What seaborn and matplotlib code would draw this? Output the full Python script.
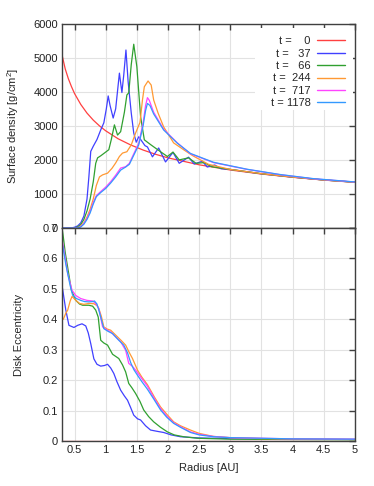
import matplotlib
matplotlib.use('Agg')
import matplotlib.pyplot as plt
import matplotlib.ticker as mticker
from matplotlib.patches import Rectangle
import pandas as pd
import seaborn as sns

# Surface density [g/cm^2] vs radius [AU]
r_sig_t0 = [0.3, 0.35, 0.4, 0.45, 0.5, 0.6, 0.7, 0.8, 0.9, 1.0, 1.2, 1.4, 1.6, 1.8, 2.0, 2.5, 3.0, 3.5, 4.0, 4.5, 5.0]
sig_t0 = [5080, 4677, 4390, 4157, 3950, 3630, 3375, 3170, 3000, 2855, 2620, 2440, 2290, 2165, 2060, 1856, 1703, 1585, 1489, 1407, 1340]

r_sig_t37 = [0.3, 0.45, 0.5, 0.55, 0.6, 0.65, 0.7, 0.73, 0.76, 0.8, 0.86, 0.92, 0.97, 1.01, 1.04, 1.07, 1.12, 1.16, 1.22,
             1.26, 1.29, 1.325, 1.36, 1.41, 1.45, 1.49, 1.53, 1.58, 1.63, 1.67, 1.75, 1.85, 1.96, 2.08, 2.18, 2.33, 2.42,
             2.55, 2.63, 2.75, 2.85, 3.0, 3.5, 4.0, 4.5, 5.0]
sig_t37 = [0, 0, 20, 60, 150, 350, 850, 1500, 2250, 2400, 2600, 2880, 3090, 3500, 3880, 3600, 3230, 3500, 4550,
           3980, 4500, 5230, 4300, 3380, 2790, 2520, 2680, 2550, 2420, 2380, 2090, 2350, 1940, 2220, 1900, 2080, 1880,
           1960, 1790, 1850, 1740, 1720, 1590, 1495, 1410, 1345]

r_sig_t66 = [0.3, 0.5, 0.55, 0.6, 0.65, 0.7, 0.75, 0.8, 0.84, 0.87, 0.92, 1.0, 1.05, 1.09, 1.14, 1.19, 1.24, 1.30, 1.34,
             1.37, 1.41, 1.45, 1.50, 1.56, 1.62, 1.72, 1.88, 1.99, 2.08, 2.18, 2.33, 2.45, 2.58, 2.7, 2.85, 3.0, 3.5,
             4.0, 4.5, 5.0]
sig_t66 = [0, 0, 30, 100, 250, 500, 850, 1350, 1900, 2060, 2120, 2230, 2300, 2600, 3030, 2730, 2830, 3400, 3910,
           3970, 4800, 5400, 4740, 3270, 2590, 2450, 2240, 2100, 2230, 2000, 2060, 1900, 1920, 1800, 1760, 1720, 1595,
           1495, 1410, 1345]

r_sig_t244 = [0.3, 0.55, 0.6, 0.65, 0.7, 0.75, 0.8, 0.85, 0.9, 0.95, 1.03, 1.1, 1.16, 1.22, 1.27, 1.34, 1.41, 1.48,
              1.55, 1.59, 1.62, 1.68, 1.73, 1.77, 1.84, 1.93, 2.09, 2.25, 2.4, 2.65, 3.0, 3.5, 4.0, 4.5, 5.0]
sig_t244 = [0, 0, 60, 150, 320, 550, 850, 1250, 1500, 1560, 1610, 1750, 1910, 2100, 2200, 2240, 2440, 2790,
            3100, 3760, 4150, 4320, 4200, 3760, 3380, 2970, 2500, 2300, 2120, 1870, 1720, 1595, 1495, 1410, 1345]

r_sig_t717 = [0.3, 0.55, 0.6, 0.65, 0.7, 0.75, 0.8, 0.85, 0.92, 1.0, 1.08, 1.16, 1.24, 1.32, 1.38, 1.43, 1.53, 1.60,
              1.64, 1.67, 1.70, 1.77, 1.93, 2.15, 2.36, 2.73, 3.27, 3.8, 4.33, 5.0]
sig_t717 = [0, 0, 40, 130, 280, 480, 750, 950, 1070, 1200, 1360, 1550, 1760, 1800, 1900, 2100, 2490, 3080,
            3600, 3830, 3750, 3400, 2900, 2500, 2180, 1920, 1720, 1565, 1445, 1350]

r_sig_t1178 = [0.3, 0.55, 0.6, 0.65, 0.7, 0.75, 0.8, 0.85, 0.92, 1.0, 1.08, 1.16, 1.24, 1.32, 1.38, 1.43, 1.53, 1.60,
               1.64, 1.67, 1.71, 1.77, 1.93, 2.15, 2.36, 2.73, 3.27, 3.8, 4.33, 5.0]
sig_t1178 = [0, 0, 30, 110, 250, 440, 700, 920, 1040, 1160, 1320, 1500, 1700, 1790, 1870, 2060, 2440, 3000,
             3450, 3660, 3600, 3350, 2880, 2490, 2190, 1930, 1725, 1570, 1450, 1352]

# Disk eccentricity vs radius [AU]
r_ecc_t0 = [0.3, 5.0]
ecc_t0 = [0.0, 0.0]

r_ecc_t37 = [0.3, 0.36, 0.41, 0.49, 0.55, 0.62, 0.68, 0.72, 0.76, 0.81, 0.86, 0.92, 0.98, 1.03, 1.08, 1.13, 1.18, 1.24,
             1.30, 1.35, 1.40, 1.45, 1.51, 1.56, 1.64, 1.72, 1.82, 1.93, 2.05, 2.2, 2.5, 3.0, 4.0, 5.0]
ecc_t37 = [0.51, 0.43, 0.38, 0.373, 0.38, 0.385, 0.378, 0.355, 0.32, 0.27, 0.252, 0.246, 0.248, 0.252, 0.24, 0.222,
           0.195, 0.167, 0.148, 0.134, 0.11, 0.085, 0.073, 0.069, 0.05, 0.036, 0.032, 0.028, 0.02, 0.014, 0.01, 0.008,
           0.006, 0.005]

r_ecc_t66 = [0.3, 0.32, 0.35, 0.39, 0.45, 0.52, 0.58, 0.63, 0.73, 0.79, 0.84, 0.88, 0.92, 0.97, 1.03, 1.11, 1.21, 1.27,
             1.32, 1.37, 1.42, 1.48, 1.55, 1.61, 1.69, 1.77, 1.88, 1.99, 2.1, 2.25, 2.47, 3.0, 4.0, 5.0]
ecc_t66 = [0.70, 0.67, 0.62, 0.57, 0.495, 0.462, 0.45, 0.446, 0.446, 0.443, 0.43, 0.407, 0.331, 0.322, 0.315, 0.285,
           0.271, 0.25, 0.227, 0.189, 0.175, 0.156, 0.13, 0.102, 0.08, 0.063, 0.045, 0.030, 0.02, 0.014, 0.009, 0.006,
           0.005, 0.004]

r_ecc_t244 = [0.3, 0.32, 0.36, 0.39, 0.43, 0.46, 0.52, 0.58, 0.65, 0.73, 0.81, 0.86, 0.89, 0.93, 0.97, 1.02, 1.08,
              1.14, 1.19, 1.25, 1.32, 1.38, 1.43, 1.51, 1.58, 1.67, 1.78, 1.88, 1.98, 2.09, 2.2, 2.36, 2.5, 2.73, 3.0,
              3.5, 4.0, 5.0]
ecc_t244 = [0.40, 0.40, 0.42, 0.43, 0.46, 0.475, 0.462, 0.452, 0.449, 0.452, 0.451, 0.445, 0.435, 0.41, 0.375, 0.368,
            0.364, 0.352, 0.342, 0.33, 0.315, 0.29, 0.271, 0.233, 0.21, 0.185, 0.145, 0.112, 0.088, 0.063, 0.05, 0.036,
            0.025, 0.015, 0.011, 0.008, 0.007, 0.005]

r_ecc_t717 = [0.3, 0.32, 0.36, 0.39, 0.46, 0.52, 0.6, 0.7, 0.79, 0.84, 0.89, 0.95, 1.02, 1.08, 1.16, 1.24, 1.32, 1.37,
              1.43, 1.48, 1.58, 1.67, 1.78, 1.88, 1.98, 2.09, 2.2, 2.36, 2.5, 2.73, 3.0, 3.5, 4.0, 5.0]
ecc_t717 = [0.66, 0.64, 0.59, 0.55, 0.495, 0.478, 0.468, 0.462, 0.46, 0.452, 0.435, 0.375, 0.365, 0.358, 0.342, 0.326,
            0.298, 0.255, 0.245, 0.233, 0.205, 0.18, 0.14, 0.107, 0.082, 0.06, 0.047, 0.03, 0.022, 0.015, 0.011, 0.009,
            0.007, 0.006]

r_ecc_t1178 = [0.3, 0.32, 0.36, 0.39, 0.43, 0.47, 0.53, 0.6, 0.66, 0.73, 0.79, 0.82, 0.86, 0.89, 0.93, 0.97, 1.04,
               1.11, 1.16, 1.21, 1.29, 1.35, 1.40, 1.45, 1.51, 1.58, 1.67, 1.78, 1.88, 1.98, 2.09, 2.2, 2.36, 2.5, 2.73,
               3.0, 3.5, 4.0, 5.0]
ecc_t1178 = [0.65, 0.63, 0.58, 0.55, 0.51, 0.479, 0.468, 0.462, 0.458, 0.457, 0.458, 0.46, 0.45, 0.43, 0.40, 0.369,
             0.36, 0.353, 0.342, 0.331, 0.315, 0.29, 0.258, 0.235, 0.216, 0.195, 0.17, 0.135, 0.102, 0.078, 0.058,
             0.045, 0.028, 0.02, 0.014, 0.011, 0.009, 0.007, 0.006]

labels = ['t =    0', 't =   37', 't =   66', 't =  244', 't =  717', 't = 1178']
colors = ['#ff4040', '#4040ff', '#30a030', '#ff9933', '#ff44ff', '#3399ff']

sig_series = [(r_sig_t0, sig_t0), (r_sig_t37, sig_t37), (r_sig_t66, sig_t66),
              (r_sig_t244, sig_t244), (r_sig_t717, sig_t717), (r_sig_t1178, sig_t1178)]
ecc_series = [(r_ecc_t0, ecc_t0), (r_ecc_t37, ecc_t37), (r_ecc_t66, ecc_t66),
              (r_ecc_t244, ecc_t244), (r_ecc_t717, ecc_t717), (r_ecc_t1178, ecc_t1178)]


def to_frame(series):
    parts = []
    for lab, (r, v) in zip(labels, series):
        parts.append(pd.DataFrame({'r': r, 'v': v, 'run': lab}))
    return pd.concat(parts, ignore_index=True)


df_sig = to_frame(sig_series)
df_ecc = to_frame(ecc_series)

sns.set_theme(style='white')
plt.rcParams['font.family'] = ['Liberation Sans', 'DejaVu Sans']
plt.rcParams['mathtext.default'] = 'regular'
plt.rcParams['font.size'] = 8

fig = plt.figure(figsize=(3.74, 4.86), dpi=100)
ax1 = fig.add_axes([0.166, 0.531, 0.783, 0.420])
ax2 = fig.add_axes([0.166, 0.0926, 0.783, 0.4384])

palette = dict(zip(labels, colors))
sns.lineplot(data=df_sig, x='r', y='v', hue='run', palette=palette, hue_order=labels,
             estimator=None, sort=False, lw=0.9, ax=ax1, legend=False)
sns.lineplot(data=df_ecc, x='r', y='v', hue='run', palette=palette, hue_order=labels,
             estimator=None, sort=False, lw=0.9, ax=ax2, legend=False)

for ax in (ax1, ax2):
    ax.set_xlim(0.3, 5)
    ax.xaxis.set_major_locator(mticker.MultipleLocator(0.5))
    ax.grid(True, color='#e2e2e2', lw=0.8)
    ax.set_axisbelow(True)
    ax.tick_params(direction='in', length=4, width=1, color='#404040', labelsize=8,
                   top=True, right=True, pad=3, labelcolor='#222222')
    for s in ax.spines.values():
        s.set_color('#404040')
        s.set_linewidth(1)

ax1.set_ylim(0, 6000)
ax1.yaxis.set_major_locator(mticker.MultipleLocator(1000))
ax1.tick_params(labelbottom=False)
ax1.set_xlabel('')
ax1.set_ylabel('Surface density [g/cm$^2$]', fontsize=8)
ax1.yaxis.set_label_coords(-0.14, 0.5)

ax2.set_ylim(0, 0.7)
ax2.yaxis.set_major_locator(mticker.MultipleLocator(0.1))
fmt = mticker.FuncFormatter(lambda v, p: '%g' % round(v, 2))
ax2.yaxis.set_major_formatter(fmt)
ax2.xaxis.set_major_formatter(fmt)
ax2.set_xlabel('Radius [AU]', fontsize=8)
ax2.set_ylabel('Disk Eccentricity', fontsize=8)
ax2.yaxis.set_label_coords(-0.13, 0.5)
ax2.xaxis.set_label_coords(0.5, -0.105)

# key box (white, hides the grid like gnuplot's key)
ax1.add_patch(Rectangle((0.659, 0.578), 0.335, 0.40, transform=ax1.transAxes,
                        facecolor='white', edgecolor='none', zorder=1.5))
handles = [plt.Line2D([], [], color=c, lw=1.0) for c in colors]
ax1.legend(handles, labels, loc='upper right', bbox_to_anchor=(0.966, 0.94),
           frameon=False, markerfirst=False, fontsize=8, handlelength=2.5,
           handletextpad=0.6, labelspacing=0.22, borderaxespad=0, borderpad=0)

fig.savefig('out.png', dpi=100)
